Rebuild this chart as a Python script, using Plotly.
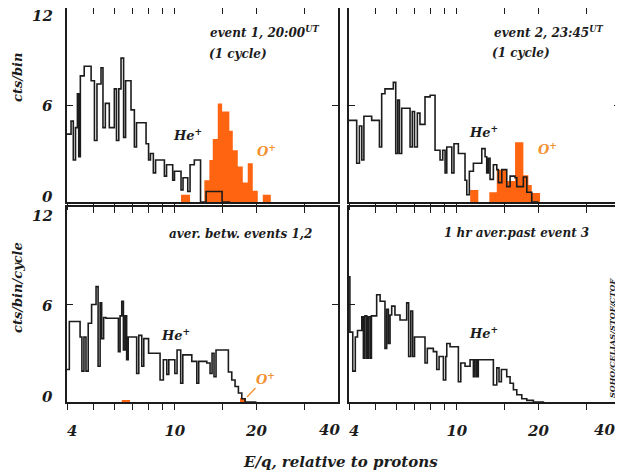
import math
import plotly.graph_objects as go

# ---------------- data ----------------
X_MIN, X_MAX = 4, 40
Y_MAX = 12
X_LABEL_VALS = [4, 10, 20]
X_LABEL_TEXT = ["\u00a0\u00a04", "10", "20"]
X_EDGE_LABEL = "40"
X_MINOR_VALS = [5, 6, 7, 8, 9, 15, 30]
Y_TICK_LABELS = [0, 6, 12]

# He+ : bin edges in E/q (relative to protons) and counts per bin
he_ev1_edges = [4.00, 4.14, 4.22, 4.30, 4.37, 4.42, 4.48, 4.63, 4.91, 5.05, 5.16, 5.34, 5.43, 5.54,
                5.73, 5.98, 6.09, 6.21, 6.33, 6.47, 6.58, 6.89, 7.09, 7.22, 7.83, 8.00, 8.13, 8.33,
                8.49, 9.15, 9.32, 9.82, 9.97, 10.54, 10.72, 11.16, 11.38, 11.80, 12.44, 13.04, 14.94, 16.0]
he_ev1_vals = [4.2, 5.0, 2.6, 4.6, 6.7, 2.8, 7.8, 8.4, 7.5, 3.8, 7.3, 8.3, 4.6, 6.1,
               4.6, 7.0, 3.8, 7.0, 8.9, 4.0, 7.5, 5.7, 3.4, 4.9, 3.6, 2.6, 3.0, 1.8,
               2.6, 1.6, 2.3, 1.35, 1.9, 0.75, 1.5, 0.65, 2.3, 2.6, 0.0, 0.65, 0.0]

he_ev2_edges = [4.00, 4.27, 4.37, 4.46, 4.54, 4.85, 5.18, 5.28, 5.43, 5.83, 5.95, 6.05, 6.14, 6.26,
                6.72, 6.85, 6.98, 7.15, 7.31, 7.63, 7.97, 8.31, 8.67, 8.87, 9.05, 9.18, 9.58, 9.76,
                10.13, 10.72, 10.88, 11.12, 11.51, 12.36, 12.71, 12.89, 13.07, 13.26, 13.64, 14.04,
                14.23, 14.65, 15.28, 15.72, 16.40, 16.64, 17.60, 18.12, 18.90, 20.0]
he_ev2_vals = [5.05, 2.4, 4.7, 2.6, 5.3, 5.05, 3.4, 6.7, 7.0, 7.4, 3.0, 6.3, 3.0, 5.8,
               3.4, 5.6, 3.4, 5.5, 4.8, 6.5, 6.6, 3.2, 2.6, 3.2, 1.8, 3.4, 1.8, 3.6,
               3.0, 1.35, 0.45, 1.9, 2.4, 3.3, 2.8, 1.8, 2.7, 1.4, 2.3, 2.0,
               1.2, 2.0, 0.95, 1.6, 1.5, 0.95, 1.55, 0.6, 0.0]

he_avg12_edges = [4.00, 4.08, 4.47, 4.54, 4.62, 4.70, 4.79, 4.93, 5.12, 5.21, 5.30, 5.37, 5.46, 5.57,
                  6.19, 6.28, 6.37, 6.46, 6.55, 6.64, 6.73, 7.23, 7.36, 7.55, 7.68, 8.00, 8.82, 9.07,
                  9.34, 9.50, 10.00, 10.19, 10.51, 10.70, 11.55, 12.05, 12.25, 13.12, 13.49, 13.72,
                  13.95, 14.19, 15.76, 16.22, 16.68, 17.16, 17.66, 18.16, 20.0]
he_avg12_vals = [2.0, 4.95, 4.0, 1.9, 4.0, 1.9, 4.85, 6.0, 7.1, 2.2, 6.1, 3.9, 5.2, 5.15,
                 3.1, 5.3, 6.2, 3.2, 5.3, 2.6, 4.0, 1.75, 4.1, 2.2, 3.9, 3.0, 1.35, 2.6,
                 1.7, 2.6, 1.75, 3.2, 1.15, 2.9, 2.5, 1.15, 2.5, 2.4, 1.75, 3.0,
                 1.55, 3.2, 1.85, 1.35, 0.95, 0.55, 0.2, 0.0]

he_past3_edges = [4.00, 4.03, 4.13, 4.22, 4.30, 4.46, 4.52, 4.58, 4.65, 4.71, 4.78, 4.84, 5.06, 5.21,
                  5.43, 5.51, 5.59, 5.67, 5.75, 5.91, 6.17, 6.53, 6.64, 6.76, 6.87, 6.98, 7.63, 7.78,
                  8.19, 8.43, 8.60, 8.92, 9.10, 9.18, 9.44, 10.13, 10.34, 10.72, 11.19, 11.51, 11.67,
                  11.84, 12.00, 13.64, 14.04, 14.31, 14.60, 15.28, 15.72, 16.17, 16.64, 17.36, 18.12,
                  19.16, 21.0]
he_past3_vals = [7.7, 4.3, 1.9, 4.0, 4.4, 5.25, 2.7, 5.3, 2.7, 5.25, 2.7, 5.3, 6.6, 6.2,
                 3.3, 5.7, 3.6, 5.35, 5.9, 5.35, 5.05, 6.1, 2.8, 5.6, 2.8, 4.0, 2.4, 3.3,
                 3.1, 2.0, 2.8, 1.35, 2.8, 3.6, 3.4, 1.25, 2.4, 2.2, 2.6, 1.55, 2.6,
                 1.55, 2.6, 1.05, 2.1, 1.25, 2.0, 1.55, 1.15, 0.75, 0.45, 0.2, 0.1, 0.0]

# O+ : bin edges and counts
o_ev1_edges = [10.54, 11.38, 12.85, 13.41, 13.80, 14.40, 14.94, 15.89, 16.36, 17.07, 17.81, 18.58,
               19.39, 20.23, 21.11, 22.6]
o_ev1_vals = [0.45, 0.0, 1.35, 2.6, 3.9, 6.1, 5.6, 4.4, 3.2, 2.2, 1.2, 2.4, 0.7, 0.0, 0.45]

o_ev2_edges = [11.20, 12.00, 13.18, 14.04, 15.28, 16.40, 17.60, 18.36, 18.90, 20.28]
o_ev2_vals = [0.75, 0.0, 0.6, 2.0, 1.3, 3.7, 1.65, 1.05, 0.55]

o_avg12_edges = [6.37, 6.83, 17.40, 18.30]
o_avg12_vals = [0.12, 0.0, 0.25]

panel_titles = [["event 1, 20:00<sup>UT</sup>", "(1 cycle)"],
                ["event 2, 23:45<sup>UT</sup>", "(1 cycle)"],
                ["aver. betw. events 1,2"],
                ["1 hr aver.past event 3"]]
y_titles = ["cts/bin", "cts/bin/cycle"]
x_title = "E/q, relative to protons"
credit = "SOHO/CELIAS/STOF/CTOF"

# ---------------- styling / layout ----------------
VIEW_W, VIEW_H = 623, 472
PAD = 8                      # page body margin
W, H = VIEW_W - PAD, VIEW_H - PAD
FONT = "DejaVu Serif"
INK = "#1c1c1c"
ORANGE = "#ff6410"
OLABEL = "#f39232"

# panel boxes in window pixels (x0, x1, ytop, ybottom)
BOX = {1: (67, 338, 8, 202), 2: (349, 620, 8, 202),
       3: (67, 338, 207, 402), 4: (349, 620, 207, 402)}


def fx(px):
    return min(1.0, max(0.0, (px - PAD) / W))


def fy(py):
    return min(1.0, max(0.0, 1 - (py - PAD) / H))


def fnt(size, color=INK):
    return dict(family=FONT, size=size, color=color, weight="bold", style="italic")


fig = go.Figure()

he_sets = [(he_ev1_edges, he_ev1_vals), (he_ev2_edges, he_ev2_vals),
           (he_avg12_edges, he_avg12_vals), (he_past3_edges, he_past3_vals)]
o_sets = [(o_ev1_edges, o_ev1_vals), (o_ev2_edges, o_ev2_vals),
          (o_avg12_edges, o_avg12_vals), None]

for i in range(1, 5):
    xa = "x" if i == 1 else f"x{i}"
    ya = "y" if i == 1 else f"y{i}"
    o = o_sets[i - 1]
    if o is not None:
        e, v = o
        fig.add_trace(go.Scatter(
            x=[e[0]] + e + [e[-1]], y=[0] + v + [v[-1], 0],
            mode="lines", line=dict(shape="hv", width=0, color=ORANGE),
            fill="tozeroy", fillcolor=ORANGE, xaxis=xa, yaxis=ya,
            hoverinfo="skip", showlegend=False))
    e, v = he_sets[i - 1]
    fig.add_trace(go.Scatter(
        x=e, y=v + [v[-1]], mode="lines",
        line=dict(shape="hv", width=1.6, color=INK),
        xaxis=xa, yaxis=ya, hoverinfo="skip", showlegend=False))
    # helper trace for the top tick axis
    fig.add_trace(go.Scatter(x=[X_MIN, X_MAX], y=[None, None], mode="lines",
                             xaxis=f"x{i + 4}", yaxis=ya, hoverinfo="skip", showlegend=False))

layout = dict(width=W, height=H, margin=dict(l=0, r=0, t=0, b=0, autoexpand=False),
              paper_bgcolor="white", plot_bgcolor="white", showlegend=False,
              font=fnt(13))
xr = [math.log10(X_MIN), math.log10(X_MAX)]
for i in range(1, 5):
    x0, x1, yt, yb = BOX[i]
    xdom = [fx(x0), fx(x1)]
    ydom = [fy(yb), fy(yt)]
    bottom = i >= 3
    xname = "xaxis" if i == 1 else f"xaxis{i}"
    yname = "yaxis" if i == 1 else f"yaxis{i}"
    yid = "y" if i == 1 else f"y{i}"
    xid = "x" if i == 1 else f"x{i}"
    layout[xname] = dict(type="log", range=xr, domain=xdom, anchor=yid, automargin=False,
                         showgrid=False, zeroline=False, showline=True, mirror=True,
                         linecolor=INK, linewidth=1.5, ticks="outside", ticklen=6,
                         tickwidth=1.3, tickcolor=INK, tickvals=X_LABEL_VALS,
                         ticktext=X_LABEL_TEXT, showticklabels=bottom,
                         ticklabeloverflow="allow",
                         tickfont=fnt(15), ticklabelstandoff=8,
                         minor=dict(tickvals=X_MINOR_VALS, ticks="outside", ticklen=6,
                                    tickwidth=1.3, tickcolor=INK, showgrid=False))
    layout[f"xaxis{i + 4}"] = dict(type="log", range=xr, overlaying=xid, side="top",
                                   anchor=yid, automargin=False, showgrid=False,
                                   zeroline=False, showline=False, ticks="inside",
                                   ticklen=6, tickwidth=1.3, tickcolor=INK,
                                   tickvals=X_MINOR_VALS + [10, 20], showticklabels=False)
    layout[yname] = dict(range=[0, Y_MAX], domain=ydom, anchor=xid, automargin=False,
                         showgrid=False, zeroline=False, showline=True, mirror="ticks",
                         linecolor=INK, linewidth=1.5, ticks="inside", ticklen=6,
                         tickwidth=1.3, tickcolor=INK, tickvals=[6],
                         showticklabels=False)
fig.update_layout(**layout)

ann = []


def A(text, px, py, size=12, color=INK, xanchor="center", yanchor="middle", angle=0):
    ann.append(dict(text=text, x=fx(px), y=fy(py), xref="paper", yref="paper",
                    xanchor=xanchor, yanchor=yanchor, showarrow=False,
                    font=fnt(size, color), textangle=angle))


# y tick labels (left panels)
for (yt, yb) in [(7, 202), (207, 402)]:
    for val in Y_TICK_LABELS:
        py = yb - (yb - yt) * val / Y_MAX
        if val == Y_MAX:
            py += 9
        elif val == 0:
            py -= 5
        else:
            py += 1
        A(str(val), 55, py, 15, xanchor="right")

# right-end x labels (kept inside the page)
A(X_EDGE_LABEL, 329, 430, 15)
A(X_EDGE_LABEL, 604, 430, 15)

# axis titles
A(y_titles[0], 17, 78, 13, angle=-90)
A(y_titles[1], 17, 288, 13, angle=-90)
A(x_title, 340, 462, 15)

# panel texts
A(panel_titles[0][0], 208, 32, 12, xanchor="left")
A(panel_titles[0][1], 207, 54, 12, xanchor="left")
A(panel_titles[1][0], 492, 32, 12, xanchor="left")
A(panel_titles[1][1], 490, 53, 12, xanchor="left")
A(panel_titles[2][0], 167, 234, 12, xanchor="left")
A(panel_titles[3][0], 442, 233, 12, xanchor="left")

A("He<sup>+</sup>", 187, 134, 13)
A("He<sup>+</sup>", 483, 132, 13)
A("He<sup>+</sup>", 175, 334, 13)
A("He<sup>+</sup>", 483, 332, 13)
A("O<sup>+</sup>", 266, 150, 13, OLABEL)
A("O<sup>+</sup>", 547, 148, 13, OLABEL)

# O+ label with leader line in lower-left panel
ann.append(dict(text="O<sup>+</sup>", x=fx(247), y=fy(397), xref="paper", yref="paper",
                showarrow=True, arrowhead=0, arrowwidth=1.3, arrowcolor=OLABEL,
                ax=18, ay=-19, font=fnt(13, OLABEL)))

A(credit, 612, 338, 8, angle=-90)

fig.update_layout(annotations=ann)
fig.write_html("out.html")
